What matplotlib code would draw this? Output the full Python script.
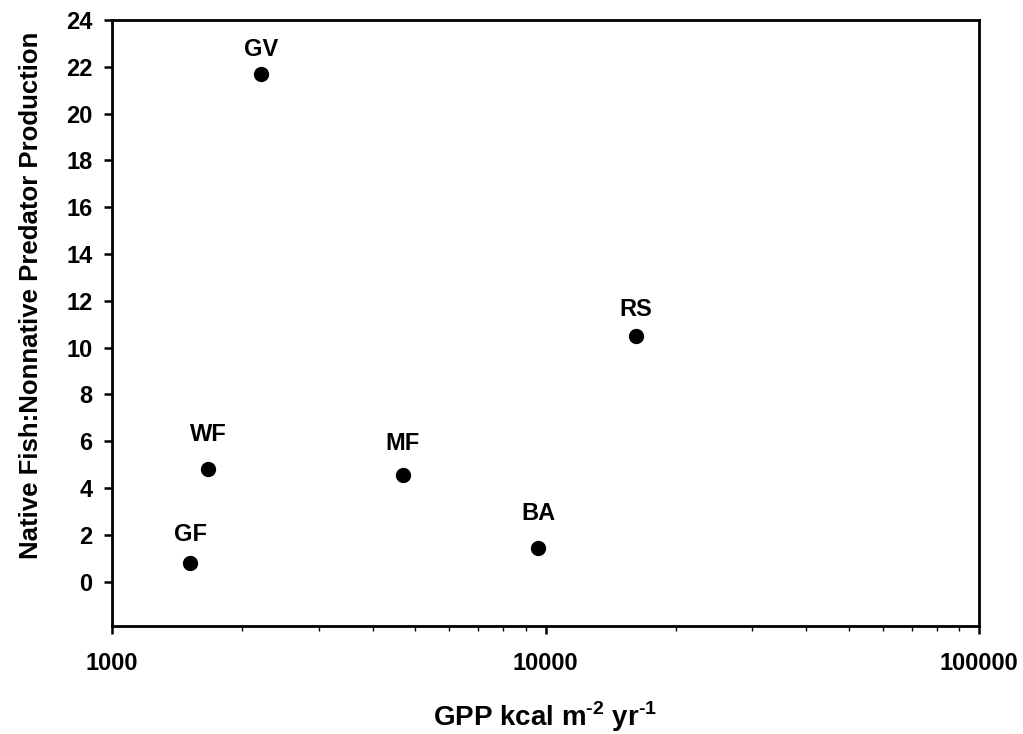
import matplotlib
matplotlib.use("Agg")
import matplotlib.pyplot as plt
from matplotlib.ticker import LogLocator, NullFormatter, FixedLocator

plt.rcParams['font.family'] = ['Liberation Sans', 'DejaVu Sans']
plt.rcParams['font.weight'] = 'bold'
plt.rcParams['mathtext.fontset'] = 'custom'
plt.rcParams['mathtext.bf'] = 'Liberation Sans:bold'
plt.rcParams['mathtext.rm'] = 'Liberation Sans:bold'

# data
sites = ['GF', 'WF', 'GV', 'MF', 'BA', 'RS']
gpp = [1514, 1667, 2208, 4685, 9614, 16180]
ratio = [0.8, 4.8, 21.7, 4.55, 1.45, 10.5]

# how far above each dot its label sits (points)
label_dy = [16, 20, 12.5, 18, 20, 14]

fig = plt.figure(figsize=(10.23, 7.34), dpi=100)
ax = fig.add_axes([112 / 1023, 1 - 626 / 734, (979 - 112) / 1023, (626 - 20) / 734])

ax.plot(gpp, ratio, 'o', color='black', markersize=10)
for s, x, y, dy in zip(sites, gpp, ratio, label_dy):
    ax.annotate(s, (x, y), xytext=(0, dy), textcoords='offset points',
                ha='center', va='baseline', fontsize=17, fontweight='bold')

ax.set_xscale('log')
ax.set_xlim(1000, 100000)
ax.set_ylim(-1.9, 24)
ax.yaxis.set_major_locator(FixedLocator(range(0, 25, 2)))
ax.xaxis.set_major_locator(FixedLocator([1000, 10000, 100000]))
ax.set_xticklabels(['1000', '10000', '100000'])
ax.xaxis.set_minor_locator(LogLocator(base=10, subs=range(2, 10)))
ax.xaxis.set_minor_formatter(NullFormatter())

for sp in ax.spines.values():
    sp.set_linewidth(2.0)
ax.tick_params(which='major', direction='out', length=6, width=1.8, labelsize=17)
ax.tick_params(axis='x', pad=13)
ax.tick_params(axis='y', pad=8)
ax.tick_params(which='minor', direction='out', length=3.5, width=1.0)
for lab in ax.get_xticklabels() + ax.get_yticklabels():
    lab.set_fontweight('bold')

ax.set_xlabel('GPP kcal m$^{\\mathbf{\u20102}}$ yr$^{\\mathbf{\u20101}}$', fontsize=20, fontweight='bold', labelpad=17)
ax.set_ylabel('Native Fish:Nonnative Predator Production', fontsize=18.5, fontweight='bold')
ax.yaxis.set_label_coords(-0.08, 0.545)

fig.savefig('out.png', dpi=100)
